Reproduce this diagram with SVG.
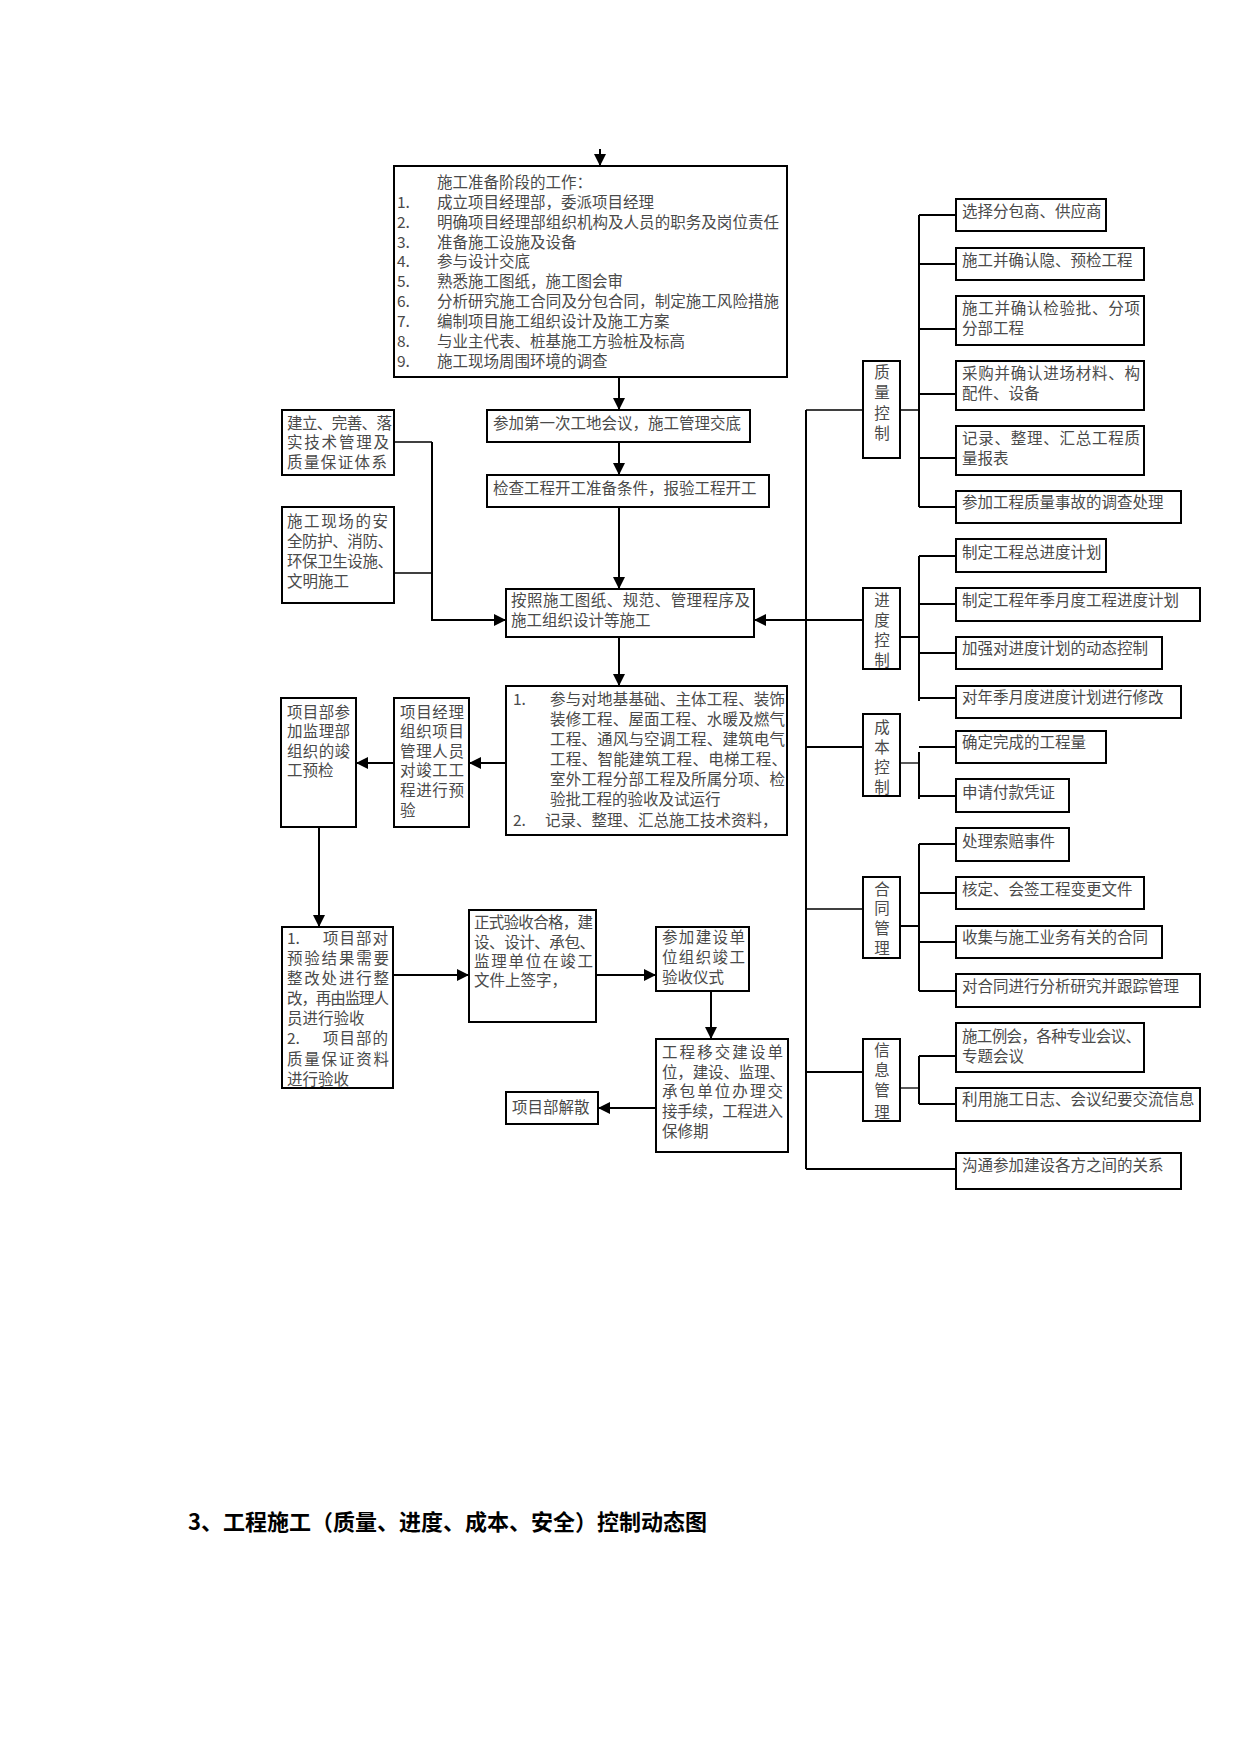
<svg xmlns="http://www.w3.org/2000/svg" width="1241" height="1754" viewBox="0 0 1241 1754">
<style>
.box{fill:#fff;stroke:#000;stroke-width:2}
.t{font-family:"Noto Sans CJK SC","Noto Sans",sans-serif;font-size:15.5px;fill:#4a4a4a}
.c{text-anchor:middle}
.ln{stroke:#000;stroke-width:2;fill:none}
.thin{stroke-width:1.3}
.title{font-family:"Noto Sans CJK SC","Noto Sans",sans-serif;font-size:22px;font-weight:bold;fill:#000}
</style>
<defs>
<marker id="ah" viewBox="0 0 10 10" refX="10" refY="5" markerWidth="12" markerHeight="12" markerUnits="userSpaceOnUse" orient="auto"><path d="M0,0 L10,5 L0,10 z" fill="#000"/></marker>
<clipPath id="clipA"><rect x="395" y="167" width="391" height="209"/></clipPath>
</defs>
<rect width="1241" height="1754" fill="#fff"/>

<g id="connectors">
<path class="ln" d="M600,149 V166" marker-end="url(#ah)"/>
<path class="ln" d="M619,377 V410" marker-end="url(#ah)"/>
<path class="ln" d="M619,442 V475" marker-end="url(#ah)"/>
<path class="ln" d="M619,507 V589" marker-end="url(#ah)"/>
<path class="ln thin" d="M394,442 H432"/>
<path class="ln thin" d="M394,573 H432"/>
<path class="ln" d="M432,442 V620 H506" marker-end="url(#ah)"/>
<path class="ln" d="M806,620 H754" marker-end="url(#ah)"/>
<path class="ln" d="M619,637 V686" marker-end="url(#ah)"/>
<path class="ln" d="M506,763 H469" marker-end="url(#ah)"/>
<path class="ln" d="M394,763 H356" marker-end="url(#ah)"/>
<path class="ln" d="M319,827 V927" marker-end="url(#ah)"/>
<path class="ln" d="M393,975 H469" marker-end="url(#ah)"/>
<path class="ln" d="M596,975 H656" marker-end="url(#ah)"/>
<path class="ln" d="M711,991 V1039" stroke-width="3" marker-end="url(#ah)"/>
<path class="ln" d="M656,1108 H598" marker-end="url(#ah)"/>
<path class="ln" d="M806,410 V1169"/>
<path class="ln thin" d="M806,410 H863 M900,410 H919"/>
<path class="ln" d="M919,215 V507 M919,215 H956 M919,264 H956 M919,329 H956 M919,394 H956 M919,458 H956 M919,507 H956"/>
<path class="ln" d="M806,620 H863 M900,637 H919"/>
<path class="ln" d="M919,556 V701 M919,556 H956 M919,604 H956 M919,653 H956 M919,698 H956"/>
<path class="ln" d="M806,747 H863"/>
<path class="ln thin" d="M900,763 H919"/>
<path class="ln" d="M919,747 H956 M919,752 V799 M919,796 H956"/>
<path class="ln thin" d="M806,909 H863"/>
<path class="ln" d="M900,926 H919 M919,844 V991 M919,844 H956 M919,893 H956 M919,942 H956 M919,991 H956"/>
<path class="ln" d="M806,1072 H863"/>
<path class="ln thin" d="M900,1088 H919"/>
<path class="ln" d="M919,1056 V1104 M919,1056 H956 M919,1104 H956"/>
<path class="ln" d="M806,1169 H956"/>
</g>

<g id="prep">
<rect class="box" x="394" y="166" width="393" height="211"/>
<g class="t" clip-path="url(#clipA)">
<text x="437" y="188">施工准备阶段的工作：</text>
<text x="397" y="208">1.</text><text x="437" y="208">成立项目经理部，委派项目经理</text>
<text x="397" y="228">2.</text><text x="437" y="228" textLength="342" lengthAdjust="spacing">明确项目经理部组织机构及人员的职务及岗位责任</text>
<text x="397" y="248">3.</text><text x="437" y="248">准备施工设施及设备</text>
<text x="397" y="267">4.</text><text x="437" y="267">参与设计交底</text>
<text x="397" y="287">5.</text><text x="437" y="287">熟悉施工图纸，施工图会审</text>
<text x="397" y="307">6.</text><text x="437" y="307" textLength="342" lengthAdjust="spacing">分析研究施工合同及分包合同，制定施工风险措施</text>
<text x="397" y="327">7.</text><text x="437" y="327">编制项目施工组织设计及施工方案</text>
<text x="397" y="347">8.</text><text x="437" y="347">与业主代表、桩基施工方验桩及标高</text>
<text x="397" y="367">9.</text><text x="437" y="367">施工现场周围环境的调查</text>
<text x="397" y="387">10.</text>
</g>
</g>

<g id="meeting">
<rect class="box" x="487" y="410" width="263" height="32"/>
<text class="t" x="493" y="429">参加第一次工地会议，施工管理交底</text>
</g>
<g id="check">
<rect class="box" x="487" y="475" width="282" height="32"/>
<text class="t" x="493" y="494">检查工程开工准备条件，报验工程开工</text>
</g>
<g id="build">
<rect class="box" x="506" y="589" width="248" height="48"/>
<text class="t" x="511" y="606" textLength="239" lengthAdjust="spacing">按照施工图纸、规范、管理程序及</text>
<text class="t" x="511" y="626">施工组织设计等施工</text>
</g>
<g id="tech">
<rect class="box" x="282" y="410" width="112" height="65"/>
<text class="t" x="287" y="429" textLength="105" lengthAdjust="spacing">建立、完善、落</text>
<text class="t" x="287" y="448" textLength="102" lengthAdjust="spacing">实技术管理及</text>
<text class="t" x="287" y="468" textLength="100" lengthAdjust="spacing">质量保证体系</text>
</g>
<g id="safety">
<rect class="box" x="282" y="507" width="112" height="96"/>
<text class="t" x="287" y="527" textLength="101" lengthAdjust="spacing">施工现场的安</text>
<text class="t" x="287" y="547" textLength="106" lengthAdjust="spacing">全防护、消防、</text>
<text class="t" x="287" y="567" textLength="106" lengthAdjust="spacing">环保卫生设施、</text>
<text class="t" x="287" y="587">文明施工</text>
</g>
<g id="accept">
<rect class="box" x="506" y="686" width="281" height="149"/>
<text class="t" x="513" y="705">1.</text>
<text class="t" x="550" y="705" textLength="235" lengthAdjust="spacing">参与对地基基础、主体工程、装饰</text>
<text class="t" x="550" y="725" textLength="235" lengthAdjust="spacing">装修工程、屋面工程、水暖及燃气</text>
<text class="t" x="550" y="745" textLength="235" lengthAdjust="spacing">工程、通风与空调工程、建筑电气</text>
<text class="t" x="550" y="765" textLength="237" lengthAdjust="spacing">工程、智能建筑工程、电梯工程、</text>
<text class="t" x="550" y="785" textLength="235" lengthAdjust="spacing">室外工程分部工程及所属分项、检</text>
<text class="t" x="550" y="805">验批工程的验收及试运行</text>
<text class="t" x="513" y="826">2.</text>
<text class="t" x="545" y="826">记录、整理、汇总施工技术资料，</text>
</g>
<g id="pm-precheck">
<rect class="box" x="394" y="698" width="75" height="129"/>
<text class="t" x="400" y="718" textLength="64" lengthAdjust="spacing">项目经理</text>
<text class="t" x="400" y="737" textLength="64" lengthAdjust="spacing">组织项目</text>
<text class="t" x="400" y="757" textLength="64" lengthAdjust="spacing">管理人员</text>
<text class="t" x="400" y="776" textLength="64" lengthAdjust="spacing">对竣工工</text>
<text class="t" x="400" y="796" textLength="64" lengthAdjust="spacing">程进行预</text>
<text class="t" x="400" y="816">验</text>
</g>
<g id="dept-precheck">
<rect class="box" x="281" y="698" width="75" height="129"/>
<text class="t" x="287" y="718" textLength="63" lengthAdjust="spacing">项目部参</text>
<text class="t" x="287" y="737" textLength="63" lengthAdjust="spacing">加监理部</text>
<text class="t" x="287" y="757" textLength="63" lengthAdjust="spacing">组织的竣</text>
<text class="t" x="287" y="776">工预检</text>
</g>
<g id="rectify">
<rect class="box" x="282" y="927" width="111" height="161"/>
<text class="t" x="287" y="944">1.</text>
<text class="t" x="323" y="944" textLength="65" lengthAdjust="spacing">项目部对</text>
<text class="t" x="287" y="964" textLength="102" lengthAdjust="spacing">预验结果需要</text>
<text class="t" x="287" y="984" textLength="102" lengthAdjust="spacing">整改处进行整</text>
<text class="t" x="287" y="1004" textLength="102" lengthAdjust="spacing">改，再由监理人</text>
<text class="t" x="287" y="1024">员进行验收</text>
<text class="t" x="287" y="1044">2.</text>
<text class="t" x="323" y="1044" textLength="65" lengthAdjust="spacing">项目部的</text>
<text class="t" x="287" y="1065" textLength="102" lengthAdjust="spacing">质量保证资料</text>
<text class="t" x="287" y="1085">进行验收</text>
</g>
<g id="formal">
<rect class="box" x="469" y="910" width="127" height="112"/>
<text class="t" x="474" y="928" textLength="119" lengthAdjust="spacing">正式验收合格，建</text>
<text class="t" x="474" y="948" textLength="121" lengthAdjust="spacing">设、设计、承包、</text>
<text class="t" x="474" y="967" textLength="119" lengthAdjust="spacing">监理单位在竣工</text>
<text class="t" x="474" y="986">文件上签字，</text>
</g>
<g id="ceremony">
<rect class="box" x="656" y="927" width="93" height="64"/>
<text class="t" x="662" y="943" textLength="83" lengthAdjust="spacing">参加建设单</text>
<text class="t" x="662" y="963" textLength="83" lengthAdjust="spacing">位组织竣工</text>
<text class="t" x="662" y="983">验收仪式</text>
</g>
<g id="handover">
<rect class="box" x="656" y="1039" width="132" height="113"/>
<text class="t" x="662" y="1058" textLength="121" lengthAdjust="spacing">工程移交建设单</text>
<text class="t" x="662" y="1078" textLength="123" lengthAdjust="spacing">位，建设、监理、</text>
<text class="t" x="662" y="1097" textLength="121" lengthAdjust="spacing">承包单位办理交</text>
<text class="t" x="662" y="1117" textLength="121" lengthAdjust="spacing">接手续，工程进入</text>
<text class="t" x="662" y="1137">保修期</text>
</g>
<g id="dissolve">
<rect class="box" x="506" y="1092" width="92" height="32"/>
<text class="t" x="512" y="1113">项目部解散</text>
</g>

<g id="cat-quality">
<rect class="box" x="863" y="361" width="37" height="97"/>
<text class="t c" x="882" y="378">质</text><text class="t c" x="882" y="398">量</text><text class="t c" x="882" y="419">控</text><text class="t c" x="882" y="439">制</text>
</g>
<g id="q1"><rect class="box" x="956" y="199" width="150" height="32"/><text class="t" x="962" y="217">选择分包商、供应商</text></g>
<g id="q2"><rect class="box" x="956" y="248" width="188" height="32"/><text class="t" x="962" y="266">施工并确认隐、预检工程</text></g>
<g id="q3"><rect class="box" x="956" y="296" width="188" height="49"/><text class="t" x="962" y="314" textLength="178" lengthAdjust="spacing">施工并确认检验批、分项</text><text class="t" x="962" y="334">分部工程</text></g>
<g id="q4"><rect class="box" x="956" y="361" width="188" height="49"/><text class="t" x="962" y="379" textLength="178" lengthAdjust="spacing">采购并确认进场材料、构</text><text class="t" x="962" y="399">配件、设备</text></g>
<g id="q5"><rect class="box" x="956" y="426" width="188" height="49"/><text class="t" x="962" y="444" textLength="178" lengthAdjust="spacing">记录、整理、汇总工程质</text><text class="t" x="962" y="464">量报表</text></g>
<g id="q6"><rect class="box" x="956" y="491" width="225" height="32"/><text class="t" x="962" y="508">参加工程质量事故的调查处理</text></g>

<g id="cat-progress">
<rect class="box" x="863" y="588" width="37" height="81"/>
<text class="t c" x="882" y="606">进</text><text class="t c" x="882" y="626">度</text><text class="t c" x="882" y="646">控</text><text class="t c" x="882" y="666">制</text>
</g>
<g id="p1"><rect class="box" x="956" y="539" width="150" height="33"/><text class="t" x="962" y="558">制定工程总进度计划</text></g>
<g id="p2"><rect class="box" x="956" y="588" width="244" height="33"/><text class="t" x="962" y="606">制定工程年季月度工程进度计划</text></g>
<g id="p3"><rect class="box" x="956" y="637" width="206" height="32"/><text class="t" x="962" y="654">加强对进度计划的动态控制</text></g>
<g id="p4"><rect class="box" x="956" y="686" width="225" height="32"/><text class="t" x="962" y="703">对年季月度进度计划进行修改</text></g>

<g id="cat-cost">
<rect class="box" x="863" y="714" width="37" height="82"/>
<text class="t c" x="882" y="733">成</text><text class="t c" x="882" y="753">本</text><text class="t c" x="882" y="773">控</text><text class="t c" x="882" y="793">制</text>
</g>
<g id="c1"><rect class="box" x="956" y="731" width="150" height="32"/><text class="t" x="962" y="748">确定完成的工程量</text></g>
<g id="c2"><rect class="box" x="956" y="779" width="113" height="33"/><text class="t" x="962" y="798">申请付款凭证</text></g>

<g id="cat-contract">
<rect class="box" x="863" y="877" width="37" height="81"/>
<text class="t c" x="882" y="895">合</text><text class="t c" x="882" y="914">同</text><text class="t c" x="882" y="934">管</text><text class="t c" x="882" y="954">理</text>
</g>
<g id="h1"><rect class="box" x="956" y="828" width="113" height="33"/><text class="t" x="962" y="847">处理索赔事件</text></g>
<g id="h2"><rect class="box" x="956" y="877" width="188" height="32"/><text class="t" x="962" y="895">核定、会签工程变更文件</text></g>
<g id="h3"><rect class="box" x="956" y="926" width="206" height="32"/><text class="t" x="962" y="943">收集与施工业务有关的合同</text></g>
<g id="h4"><rect class="box" x="956" y="974" width="244" height="33"/><text class="t" x="962" y="992">对合同进行分析研究并跟踪管理</text></g>

<g id="cat-info">
<rect class="box" x="863" y="1039" width="37" height="82"/>
<text class="t c" x="882" y="1056">信</text><text class="t c" x="882" y="1076">息</text><text class="t c" x="882" y="1096">管</text><text class="t c" x="882" y="1118">理</text>
</g>
<g id="x1"><rect class="box" x="956" y="1023" width="188" height="49"/><text class="t" x="962" y="1042" textLength="179" lengthAdjust="spacing">施工例会，各种专业会议、</text><text class="t" x="962" y="1062">专题会议</text></g>
<g id="x2"><rect class="box" x="956" y="1088" width="244" height="33"/><text class="t" x="962" y="1105">利用施工日志、会议纪要交流信息</text></g>
<g id="comm"><rect class="box" x="956" y="1153" width="225" height="36"/><text class="t" x="962" y="1171">沟通参加建设各方之间的关系</text></g>

<text class="title" x="188" y="1530">3、工程施工（质量、进度、成本、安全）控制动态图</text>
</svg>
